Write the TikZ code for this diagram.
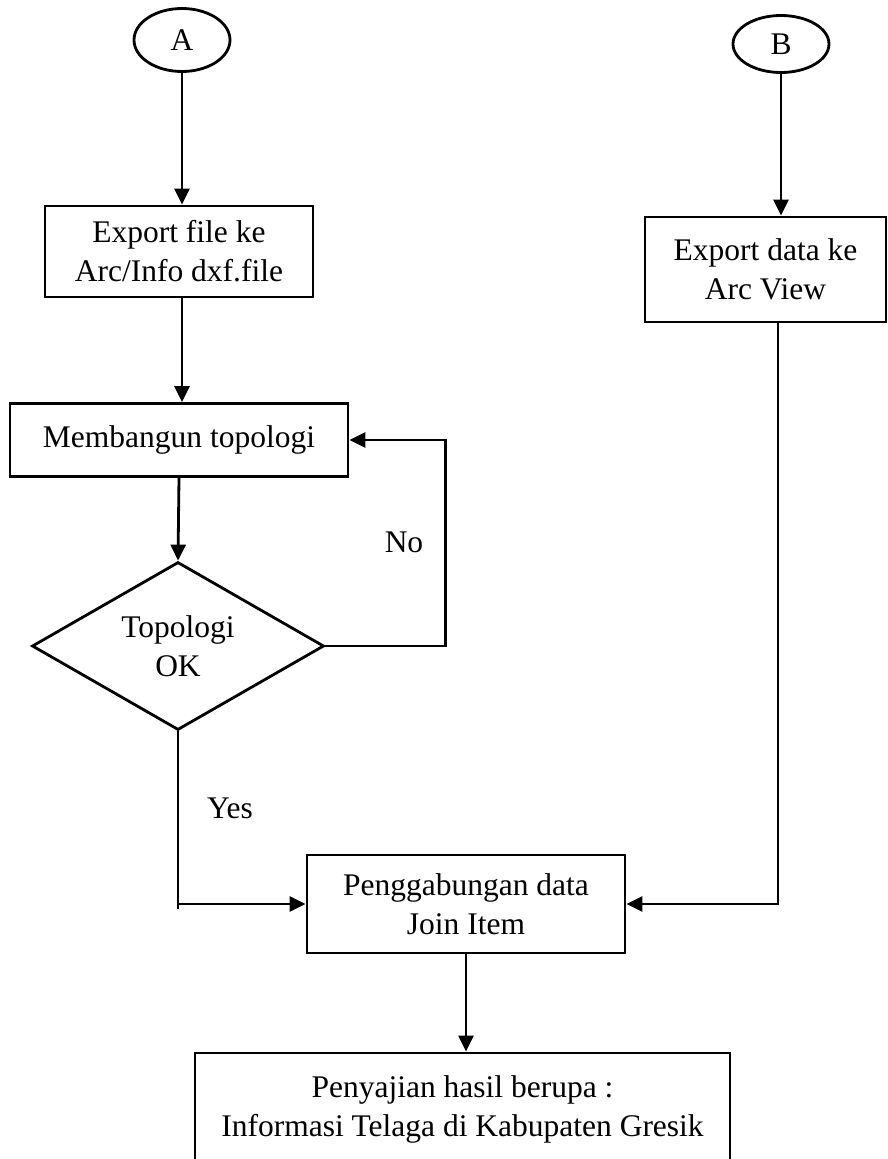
\documentclass[tikz,border=0pt]{standalone}
\usepackage{fontspec}
\setmainfont{Liberation Serif}
\usetikzlibrary{shapes.geometric,arrows.meta}
\begin{document}
\begin{tikzpicture}[x=1pt,y=-1pt,
  font=\fontsize{31.5}{39}\selectfont,
  every node/.style={inner sep=0pt},
  procbox/.style={draw,line width=2.8pt,align=center},
  termnode/.style={draw,line width=2.8pt,ellipse},
  decision/.style={draw,line width=2.8pt,diamond,aspect=1.74,align=center},
  flow/.style={line width=2.8pt,-{Triangle[length=16pt,width=15pt]}},
  plain/.style={line width=2.8pt}]
\useasboundingbox (0,0) rectangle (887,1159);
\clip (0,0) rectangle (887,1159);
% terminators
\node[termnode,minimum width=96pt,minimum height=63pt] (A) at (182,40) {A};
\node[termnode,minimum width=96pt,minimum height=57pt] (B) at (781,44) {B};
% left branch
\node[procbox,minimum width=268pt,minimum height=91pt] (exp1) at (179,251.5)
  {Export file ke\\Arc/Info dxf.file};
\node[procbox,minimum width=338pt,minimum height=73pt] (build) at (179,440)
  {Membangun topologi};
\node[decision,minimum width=292pt,minimum height=168pt] (chk) at (178,646)
  {Topologi\\OK};
% right branch
\node[procbox,minimum width=241pt,minimum height=105pt] (exp2) at (765.5,269.5)
  {Export data ke\\Arc View};
% merge and output
\node[procbox,minimum width=318pt,minimum height=98pt] (join) at (466,904)
  {Penggabungan data\\Join Item};
\node[procbox,minimum width=535pt,minimum height=164pt] (out) at (462.5,1135)
  {Penyajian hasil berupa :\\Informasi Telaga di Kabupaten Gresik\\[8pt]\strut};
% labels
\node (no) at (404,542) {No};
\node (yes) at (230,808) {Yes};
% connectors
\draw[flow] (A.south) -- (A.south |- exp1.north);
\draw[flow] (B.south) -- (B.south |- exp2.north);
\draw[flow] (exp1.south -| 182,0) -- (build.north -| 182,0);
\draw[flow] (build.south) -- (chk.north);
\draw[flow] (chk.east) -- ++(120,0) |- (build.east);
\draw[plain] (chk.south) -- ++(0,178);
\draw[flow] (chk.south |- join.west) -- (join.west);
\draw[flow] (exp2.south -| 778,0) |- (join.east);
\draw[flow] (join.south) -- (join.south |- out.north);
\end{tikzpicture}
\end{document}
